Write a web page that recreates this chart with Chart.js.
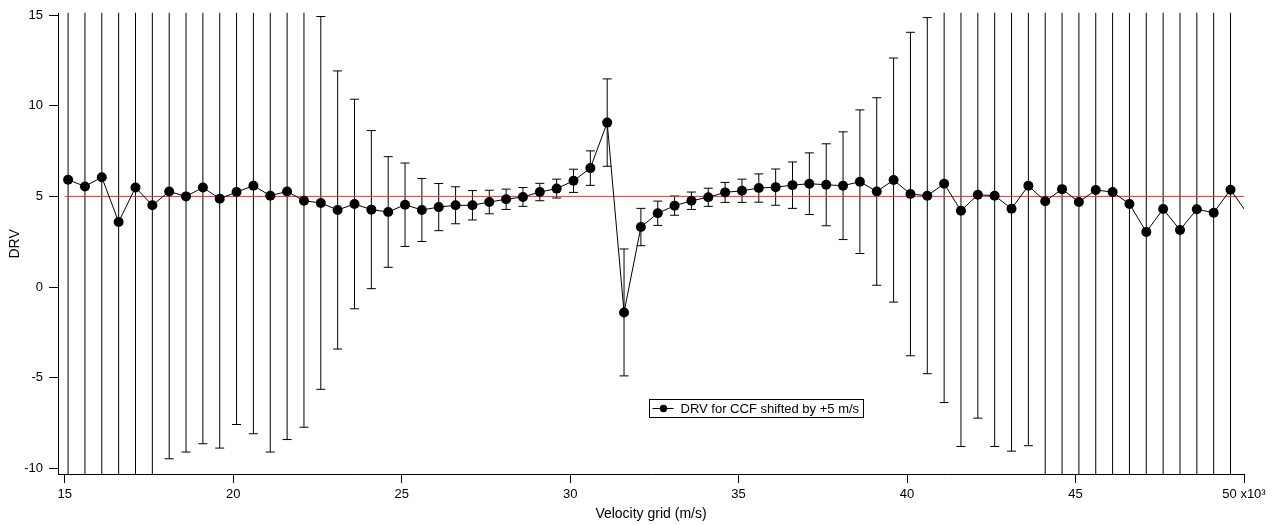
<!DOCTYPE html>
<html>
<head>
<meta charset="utf-8">
<script src="https://cdn.jsdelivr.net/npm/chart.js@4.4.0/dist/chart.umd.min.js"></script>
<style>
  html, body { margin:0; padding:0; background:#fff; }
  #wrap { width:1277px; height:525px; position:relative; }
</style>
</head>
<body>
<div id="wrap"><canvas id="chart1"></canvas></div>
<script>
// ── DATA ──────────────────────────────────────────────────
const velocity = [
  15100,15600,16100,16600,17100,17600,18100,18600,19100,19600,
  20100,20600,21100,21600,22100,22600,23100,23600,24100,24600,
  25100,25600,26100,26600,27100,27600,28100,28600,29100,29600,
  30100,30600,31100,31600,32100,32600,33100,33600,34100,34600,
  35100,35600,36100,36600,37100,37600,38100,38600,39100,39600,
  40100,40600,41100,41600,42100,42600,43100,43600,44100,44600,
  45100,45600,46100,46600,47100,47600,48100,48600,49100,49600,
  50100,
];
const drv = [
  5.92,5.55,6.06,3.59,5.49,4.51,5.27,5.00,5.49,4.87,
  5.24,5.59,5.04,5.27,4.76,4.64,4.25,4.58,4.27,4.14,
  4.54,4.25,4.41,4.51,4.51,4.69,4.84,4.97,5.24,5.43,
  5.86,6.56,9.07,-1.40,3.31,4.07,4.49,4.76,4.95,5.22,
  5.31,5.46,5.51,5.62,5.70,5.64,5.59,5.81,5.27,5.90,
  5.13,5.04,5.70,4.21,5.09,5.04,4.32,5.59,4.73,5.40,
  4.69,5.35,5.24,4.58,3.04,4.30,3.15,4.29,4.10,5.37,
  4.05,
];
const drvErr = [
  22,21,20,19,18,17,14.74,14.10,14.13,13.75,
  12.82,13.68,14.14,13.68,12.49,10.28,7.67,5.78,4.36,3.05,
  2.30,1.74,1.30,1.02,0.81,0.65,0.56,0.52,0.48,0.52,
  0.64,0.95,2.41,3.50,1.03,0.67,0.53,0.48,0.50,0.55,
  0.64,0.78,1.00,1.28,1.70,2.26,2.97,3.96,5.17,6.73,
  8.92,9.82,12.07,13.00,12.32,13.83,13.37,14.34,16,17,
  18,19,20,21,22,23,24,25,26,27,
  28,
];
const refLineX = [15000, 50000];
const refLineY = [5, 5];
const xTicks = [15000,20000,25000,30000,35000,40000,45000,50000];
const yTicks = [-10,-5,0,5,10,15];
const seriesLabel = 'DRV for CCF shifted by +5 m/s';

// ── PLUGINS ───────────────────────────────────────────────
const FONT = "'Liberation Sans', Arial, Helvetica, sans-serif";
const X_MIN = 14800, X_MAX = 50000;

const errorBars = {
  id: 'errorBars',
  beforeDatasetsDraw(chart) {
    const { ctx, chartArea:a, scales:{ x, y } } = chart;
    ctx.save();
    ctx.beginPath();
    ctx.rect(a.left, a.top - 1, a.right - a.left, a.bottom - a.top + 1);
    ctx.clip();
    ctx.strokeStyle = '#000';
    ctx.lineWidth = 1;
    velocity.forEach((v, i) => {
      const px = x.getPixelForValue(v);
      const hi = y.getPixelForValue(drv[i] + drvErr[i]);
      const lo = y.getPixelForValue(drv[i] - drvErr[i]);
      ctx.beginPath();
      ctx.moveTo(px, hi); ctx.lineTo(px, lo);
      ctx.moveTo(px - 4.5, hi); ctx.lineTo(px + 4.5, hi);
      ctx.moveTo(px - 4.5, lo); ctx.lineTo(px + 4.5, lo);
      ctx.stroke();
    });
    ctx.restore();
  }
};

const boxLegend = {
  id: 'boxLegend',
  afterDraw(chart) {
    const ctx = chart.ctx;
    const bx = 649.5, by = 399.5, bw = 214, bh = 18;
    ctx.save();
    ctx.fillStyle = '#fff';
    ctx.fillRect(bx, by, bw, bh);
    ctx.strokeStyle = '#000'; ctx.lineWidth = 1;
    ctx.strokeRect(bx, by, bw, bh);
    const cy = by + bh / 2;
    ctx.beginPath(); ctx.moveTo(bx + 3, cy); ctx.lineTo(bx + 24, cy); ctx.stroke();
    ctx.beginPath(); ctx.arc(bx + 14, cy, 3.7, 0, Math.PI * 2); ctx.fillStyle = '#000'; ctx.fill();
    ctx.font = `13px ${FONT}`;
    ctx.textBaseline = 'middle'; ctx.textAlign = 'left';
    ctx.fillText(seriesLabel, bx + 31, cy + 0.5);
    ctx.restore();
  }
};

// ── CHART ─────────────────────────────────────────────────
const axisGrid = { drawOnChartArea:false, drawTicks:true, tickLength:9, tickColor:'#000', tickWidth:1 };
const axisBorder = { display:true, color:'#000', width:1 };

new Chart(document.getElementById('chart1').getContext('2d'), {
  type: 'line',
  data: {
    datasets: [
      {
        label: seriesLabel,
        data: velocity.map((v, i) => ({ x:v, y:drv[i] })),
        borderColor: '#000', borderWidth: 1,
        backgroundColor: '#000',
        pointBackgroundColor: '#000', pointBorderColor: '#000',
        // markers outside the axis range are not drawn, the line still runs to the edge
        pointRadius: c => (c.raw && c.raw.x > X_MAX) ? 0 : 5,
        pointBorderWidth: 0,
        tension: 0, fill: false, order: 1, clip: 0,
      },
      {
        label: 'ref',
        data: refLineX.map((v, i) => ({ x:v, y:refLineY[i] })),
        borderColor: '#e8302c', borderWidth: 1,
        pointRadius: 0, tension: 0, fill: false, order: 2,
      },
    ]
  },
  options: {
    responsive: true,
    maintainAspectRatio: false,
    animation: false,
    layout: { padding: { left:0, top:12, right:33, bottom:0 } },
    plugins: { legend:{ display:false }, tooltip:{ enabled:false } },
    scales: {
      x: {
        type: 'linear', min: X_MIN, max: X_MAX,
        afterBuildTicks: s => { s.ticks = xTicks.map(v => ({ value:v })); },
        afterFit: s => { s.height = 51; },
        ticks: {
          color:'#000', padding:4, maxRotation:0, autoSkip:false,
          font:{ family:FONT, size:13 },
          callback: v => v === 50000 ? '50 x10\u00b3' : String(v / 1000),
        },
        grid: axisGrid, border: axisBorder,
        title: { display:true, text:'Velocity grid (m/s)', color:'#000',
                 font:{ family:FONT, size:14 }, padding:{ top:0, bottom:2 } },
      },
      y: {
        type: 'linear', min: -10.31, max: 15.07,
        afterBuildTicks: s => { s.ticks = yTicks.map(v => ({ value:v })); },
        afterFit: s => { s.width = 58; },
        ticks: { color:'#000', padding:6, font:{ family:FONT, size:13 } },
        grid: axisGrid, border: axisBorder,
        title: { display:true, text:'DRV', color:'#000',
                 font:{ family:FONT, size:14 }, padding:{ top:7, bottom:0 } },
      },
    }
  },
  plugins: [errorBars, boxLegend],
});
</script>
</body>
</html>
